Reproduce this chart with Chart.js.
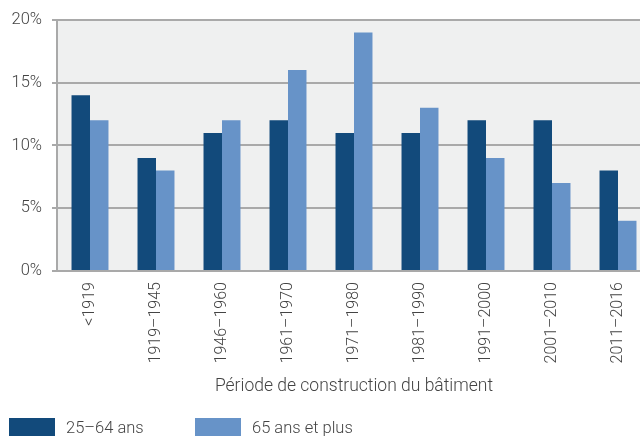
<!DOCTYPE html>
<html><head><meta charset="utf-8">
<script src="https://cdn.jsdelivr.net/npm/chart.js@4/dist/chart.umd.min.js"></script>
<style>html,body{margin:0;padding:0;background:#fff;overflow:hidden}#wrap{width:640px;height:436px;overflow:hidden}</style>
</head><body><div id="wrap"><canvas id="c" width="651" height="436"></canvas></div>
<script>
const categories = ['<1919','1919–1945','1946–1960','1961–1970','1971–1980','1981–1990','1991–2000','2001–2010','2011–2016'];
const series1Label = '25–64 ans';
const series1 = [14, 9, 11, 12, 11, 11, 12, 12, 8];
const series2Label = '65 ans et plus';
const series2 = [12, 8, 12, 16, 19, 13, 9, 7, 4];
const yTicks = [0, 5, 10, 15, 20];
const xTitle = 'Période de construction du bâtiment';

const FONT = 'Roboto';
const TXT = '#444';
const GRID = '#a9a9a9';

const bgPlugin = {
  id: 'bg',
  beforeDraw(chart) {
    const {ctx, chartArea: a} = chart;
    ctx.save(); ctx.fillStyle = '#eff0f0';
    ctx.fillRect(a.left, a.top, a.right - a.left, a.bottom - a.top);
    ctx.restore();
  }
};
const legendPlugin = {
  id: 'customLegend',
  afterDraw(chart) {
    const ctx = chart.ctx;
    const xs = [9, 195];
    ctx.save();
    ctx.font = '300 16.5px ' + FONT;
    ctx.textBaseline = 'middle';
    chart.data.datasets.forEach((ds, i) => {
      ctx.fillStyle = ds.backgroundColor;
      ctx.fillRect(xs[i], 418, 46, 20);
      ctx.fillStyle = TXT;
      ctx.fillText(ds.label, xs[i] + 57, 429);
    });
    ctx.restore();
  }
};

new Chart(document.getElementById('c'), {
  type: 'bar',
  data: {
    labels: categories,
    datasets: [
      {label: series1Label, data: series1, backgroundColor: '#124a7b', categoryPercentage: 0.56, barPercentage: 1},
      {label: series2Label, data: series2, backgroundColor: '#6793c8', categoryPercentage: 0.56, barPercentage: 1}
    ]
  },
  options: {
    responsive: false,
    animation: false,
    layout: {padding: {top: 19, right: 0, left: 0, bottom: 0}},
    plugins: {legend: {display: false}, tooltip: {enabled: false}},
    scales: {
      x: {
        grid: {display: false},
        border: {display: true, color: GRID, width: 2},
        ticks: {color: TXT, font: {family: FONT, size: 16, weight: '300'}, minRotation: 90, maxRotation: 90, padding: 3},
        title: {display: true, text: xTitle, color: TXT, font: {family: FONT, size: 17.5, weight: '300'}, padding: {top: 0, bottom: 39}},
        afterFit(s) { s.height = 436 - 19 - 252; s.paddingRight = 0; s.paddingLeft = 0; }
      },
      y: {
        min: 0, max: 20,
        afterBuildTicks(s) { s.ticks = yTicks.map(v => ({value: v})); },
        grid: {color: GRID, lineWidth: 2, tickLength: 5},
        border: {display: true, color: GRID, width: 2},
        ticks: {color: TXT, font: {family: FONT, size: 16.5, weight: '300'}, padding: 10, callback: v => v + '%'},
        afterFit(s) { s.width = 57; }
      }
    }
  },
  plugins: [bgPlugin, legendPlugin]
});
</script></body></html>
